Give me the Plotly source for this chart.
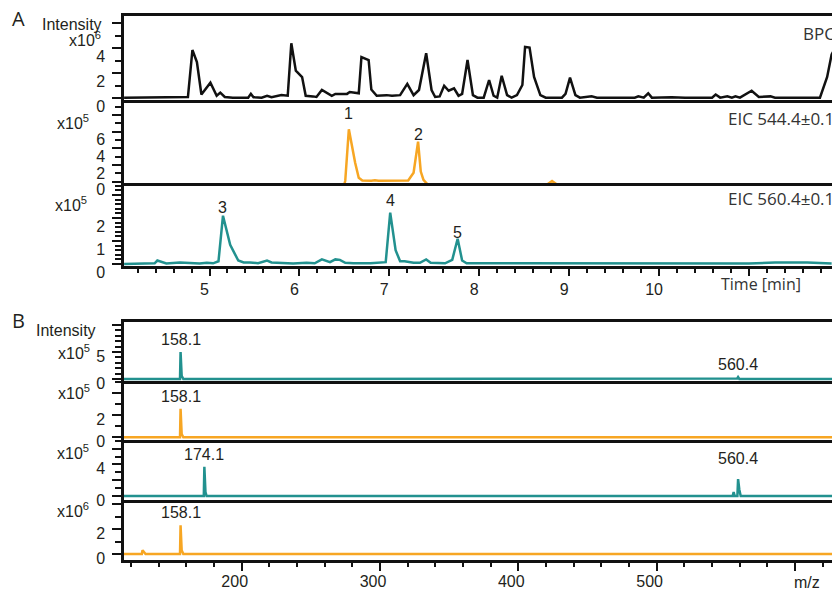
import plotly.graph_objects as go

W, H = 832, 589

# ---------------- Panel A: chromatograms (time in min) ----------------
bpc_t = [4.05, 4.73, 4.76, 4.81, 4.86, 4.91, 5.01, 5.08, 5.12, 5.17, 5.26, 5.43, 5.46, 5.49, 5.58,
         5.64, 5.69, 5.80, 5.87, 5.91, 5.96, 6.03, 6.07, 6.15, 6.19, 6.25, 6.36, 6.40, 6.53, 6.56,
         6.66, 6.69, 6.77, 6.80, 6.86, 6.97, 7.03, 7.12, 7.20, 7.27, 7.33, 7.41, 7.47, 7.51, 7.56,
         7.61, 7.66, 7.72, 7.77, 7.81, 7.87, 7.93, 7.98, 8.05, 8.11, 8.16, 8.20, 8.25, 8.31, 8.36,
         8.42, 8.48, 8.51, 8.56, 8.61, 8.68, 8.74, 8.92, 8.96, 9.01, 9.07, 9.12, 9.25, 9.31, 9.73,
         9.77, 9.83, 9.88, 9.92, 10.14, 10.29, 10.59, 10.63, 10.68, 10.76, 10.81, 10.85, 10.90, 11.03, 11.11,
         11.24, 11.29, 11.79, 11.87, 11.92, 11.98]
bpc_i = [0.05, 0.05, 0.1, 3.86, 2.9, 0.3, 1.25, 0.2, 0.45, 0.1, 0.05, 0.05, 0.35, 0.08, 0.05,
         0.2, 0.08, 0.25, 0.2, 4.4, 2.2, 1.7, 0.2, 0.15, 0.1, 0.66, 0.2, 0.35, 0.35, 0.5,
         0.4, 3.3, 3.06, 0.7, 0.2, 0.25, 0.2, 0.25, 1.15, 0.25, 0.66, 3.6, 0.66, 0.1, 0.15,
         1.0, 0.6, 0.8, 0.2, 0.35, 3.06, 0.25, 0.05, 0.05, 1.46, 0.2, 0.05, 1.8, 0.25, 0.05,
         0.25, 1.06, 4.1, 4.05, 1.7, 0.25, 0.05, 0.05, 0.35, 1.65, 0.25, 0.05, 0.15, 0.05, 0.05,
         0.15, 0.05, 0.4, 0.05, 0.08, 0.05, 0.05, 0.3, 0.05, 0.15, 0.05, 0.15, 0.05, 0.6, 0.1,
         0.15, 0.05, 0.05, 1.7, 3.5, 4.3]  # x10^6

eic544_t = [6.50, 6.51, 6.55, 6.62, 6.66, 6.70, 6.80, 6.84, 6.88, 7.15, 7.21, 7.27, 7.32, 7.35,
            7.38, 7.43, 8.75, 8.81, 8.87, 8.95]
eic544_i = [-0.35, 0.1, 6.3, 2.25, 0.45, 0.12, 0.1, 0.15, 0.1, 0.1, 0.12, 1.05, 4.8, 1.2,
            0.2, -0.4, -0.4, 0.05, -0.4, -0.4]  # x10^5

eic560_t = [4.05, 4.39, 4.42, 4.52, 4.67, 4.89, 4.97, 5.04, 5.10, 5.15, 5.23, 5.32, 5.38, 5.45,
            5.54, 5.64, 5.69, 5.82, 5.93, 6.08, 6.17, 6.25, 6.34, 6.40, 6.45, 6.51, 6.60, 6.79,
            6.90, 6.96, 7.01, 7.07, 7.12, 7.17, 7.27, 7.34, 7.41, 7.46, 7.62, 7.70, 7.76, 7.81,
            7.86, 8.2, 8.66, 9.0, 9.5, 10.0, 10.5, 11.0, 11.29, 11.65, 11.92]
eic560_i = [0.0, 0.03, 0.15, 0.02, 0.06, 0.02, 0.05, 0.03, 0.12, 2.1, 0.83, 0.15, 0.07, 0.07,
            0.03, 0.15, 0.07, 0.03, 0.02, 0.05, 0.03, 0.2, 0.08, 0.2, 0.18, 0.05, 0.03, 0.03,
            0.05, 0.08, 2.23, 0.6, 0.12, 0.12, 0.05, 0.05, 0.2, 0.05, 0.03, 0.18, 1.1, 0.15,
            0.03, 0.03, 0.05, 0.02, 0.03, 0.02, 0.03, 0.02, 0.06, 0.06, 0.02]  # x10^5

peakA_text = ["1", "2", "3", "4", "5"]
peakA_t = [6.55, 7.32, 5.15, 7.01, 7.76]
peakA_val = [6.3, 4.8, 2.1, 2.23, 1.1]
peakA_panel = [2, 2, 3, 3, 3]

time_ticks = [5, 6, 7, 8, 9, 10, 11]
time_ticktext = ["5", "6", "7", "8", "9", "10", ""]

# ---------------- Panel B: mass spectra (m/z) ----------------
ms1_mz = [114, 155.4, 155.8, 156.6, 157.8, 557.6, 558.3, 558.9, 559.8, 627]
ms1_i = [0, 0, 5.0, 0.6, 0, 0, 0.1, 0.35, 0, 0]  # x10^5
ms2_mz = [114, 155.4, 155.8, 156.6, 157.8, 627]
ms2_i = [0, 0, 2.6, 0.3, 0, 0]  # x10^5
ms3_mz = [114, 172.6, 173.0, 173.8, 174.6, 555.0, 555.7, 556.4, 558.4, 558.9, 559.8, 560.8, 627]
ms3_i = [0, 0, 3.7, 0.5, 0, 0, 0.5, 0, 0, 2.15, 0.8, 0, 0]  # x10^5
ms4_mz = [114, 127.8, 128.3, 129.5, 130.5, 155.4, 155.8, 156.6, 157.8, 627]
ms4_i = [0, 0, 0.3, 0.1, 0, 0, 2.3, 0.3, 0, 0]  # x10^6

peakB_text = ["158.1", "560.4", "158.1", "174.1", "560.4", "158.1"]
peakB_mz = [155.8, 558.9, 155.8, 173.0, 558.9, 155.8]
peakB_val = [5.0, 0.35, 2.6, 3.7, 2.15, 2.3]
peakB_panel = [4, 4, 5, 6, 6, 7]

mz_ticks = [200, 300, 400, 500, 600]
mz_ticktext = ["200", "300", "400", "500", ""]

# ---------------- styling ----------------
BLACK = "#111111"
TEAL = "#22918f"
ORANGE = "#f7a623"
TXT = "#231f20"
TICKFONT = dict(family="Liberation Sans, Arial", size=16, color=TXT)
LBLFONT = dict(family="Open Sans", size=17, color="#333333")


def py(px):
    return 1 - px / H


def px_x(px):
    return px / W


XDOM = [124 / W, 1.0]

fig = go.Figure()

traces = [
    (bpc_t, bpc_i, BLACK, 1),
    (eic544_t, eic544_i, ORANGE, 2),
    (eic560_t, eic560_i, TEAL, 3),
    (ms1_mz, ms1_i, TEAL, 4),
    (ms2_mz, ms2_i, ORANGE, 5),
    (ms3_mz, ms3_i, TEAL, 6),
    (ms4_mz, ms4_i, ORANGE, 7),
]
for x, y, c, k in traces:
    fig.add_trace(go.Scatter(x=x, y=y, mode="lines", line=dict(color=c, width=2.5),
                             xaxis="x" if k == 1 else f"x{k}", yaxis="y" if k == 1 else f"y{k}",
                             hoverinfo="skip"))

# subplot definitions: (pixel top, pixel bottom, yrange, tickvals, ticktext, minor dtick)
subs = {
    1: (16, 100, [-0.14, 6.58], [0, 2, 4, 6], ["0", "2", "4", ""], 1),
    2: (100, 183, [-0.18, 9.82], [0, 2, 4, 6, 8], ["0", "2", "4", "6", ""], 1),
    3: (183, 266, [-0.087, 3.52], [0, 1, 2, 3], ["0", "1", "2", ""], 0.2),
    4: (322, 381, [-0.37, 10.56], [0, 5, 10], ["0", "5", ""], 1),
    5: (381, 440, [-0.245, 5.12], [0, 2, 4], ["0", "2", ""], 1),
    6: (440, 500, [-0.506, 7.09], [0, 2, 4, 6], ["0", "", "4", ""], 1),
    7: (500, 560, [-0.48, 4.32], [0, 2, 4], ["0", "2", ""], 1),
}

layout = {}
for k, (top, bot, yr, tv, tt, mdt) in subs.items():
    xname = "xaxis" if k == 1 else f"xaxis{k}"
    yname = "yaxis" if k == 1 else f"yaxis{k}"
    xa = "x" if k == 1 else f"x{k}"
    ya = "y" if k == 1 else f"y{k}"
    panelA = k <= 3
    bottom = k in (3, 7)
    topmost = k in (1, 4)
    if panelA:
        xr = [4.049, 11.924]
        xt, xtt, xminor = time_ticks, time_ticktext, 0.2
        shift_x, shift_y, stand_x = -5, 8, 0
    else:
        xr = [114.9, 626.8]
        xt, xtt, xminor = mz_ticks, mz_ticktext, 20
        shift_x, shift_y, stand_x = -7, 4, -3
    xaxis = dict(domain=XDOM, range=xr, anchor=ya, showgrid=False, zeroline=False,
                 showline=True, linecolor=BLACK, linewidth=2.5, automargin=False,
                 mirror=True if topmost else False, fixedrange=True)
    if bottom:
        xaxis.update(tickmode="array", tickvals=xt, ticktext=xtt, ticks="outside",
                     ticklen=7 if panelA else 8, tickwidth=2, tickcolor=BLACK,
                     tickfont=TICKFONT, ticklabelshift=shift_x, ticklabelstandoff=stand_x,
                     minor=dict(tickmode="linear", tick0=0, dtick=xminor, ticks="outside",
                                ticklen=4, tickwidth=2, tickcolor=BLACK))
    else:
        xaxis.update(showticklabels=False, ticks="")
    layout[xname] = xaxis
    layout[yname] = dict(domain=[py(bot), py(top)], range=yr, anchor=xa, showgrid=False,
                         zeroline=False, showline=True, linecolor=BLACK, linewidth=2.5,
                         automargin=False,
                         tickmode="array", tickvals=tv, ticktext=tt, ticks="outside",
                         ticklen=9, tickwidth=2, tickcolor=BLACK, tickfont=TICKFONT,
                         ticklabelstandoff=4, ticklabelshift=shift_y,
                         minor=dict(tickmode="linear", tick0=0, dtick=mdt, ticks="outside",
                                    ticklen=6, tickwidth=2, tickcolor=BLACK),
                         fixedrange=True)

annotations = []


def paper_text(text, xpx, ypx, font, xanchor="right"):
    annotations.append(dict(text=text, x=px_x(xpx), y=py(ypx), xref="paper", yref="paper",
                            xanchor=xanchor, yanchor="middle", showarrow=False, font=font))


# panel letters
paper_text("A", 10, 19, dict(family="Open Sans", size=20, color=TXT), "left")
paper_text("B", 10, 320, dict(family="Open Sans", size=20, color=TXT), "left")

# intensity labels / exponents
paper_text("Intensity", 104, 25, TICKFONT)
paper_text("x10<sup>6</sup>", 103, 39, TICKFONT)
paper_text("x10<sup>5</sup>", 91, 122, TICKFONT)
paper_text("x10<sup>5</sup>", 89, 204, TICKFONT)
paper_text("Intensity", 98, 330, TICKFONT)
paper_text("x10<sup>5</sup>", 92, 352, TICKFONT)
paper_text("x10<sup>5</sup>", 92, 392, TICKFONT)
paper_text("x10<sup>5</sup>", 91, 452, TICKFONT)
paper_text("x10<sup>6</sup>", 91, 510, TICKFONT)

# trace labels
paper_text("BPC", 801, 34, LBLFONT, "left")
paper_text("EIC 544.4±0.1", 726, 118, LBLFONT, "left")
paper_text("EIC 560.4±0.1", 726, 199, LBLFONT, "left")
paper_text("Time [min]", 761, 284, dict(family="Open Sans", size=16, color="#333333"), "center")
paper_text("m/z", 807, 582, TICKFONT, "center")

# peak number labels (panel A)
shiftsA = [16, 7, 8, 12, 6]
for txt, t, v, p, s in zip(peakA_text, peakA_t, peakA_val, peakA_panel, shiftsA):
    annotations.append(dict(text=txt, x=t, y=v, xref=f"x{p}", yref=f"y{p}", yshift=s,
                            xanchor="center", yanchor="middle", showarrow=False, font=TICKFONT))

# m/z labels (panel B)
shiftsB = [13, 13, 12, 12, 21, 13]
for txt, m, v, p, s in zip(peakB_text, peakB_mz, peakB_val, peakB_panel, shiftsB):
    annotations.append(dict(text=txt, x=m, y=v, xref=f"x{p}", yref=f"y{p}", yshift=s,
                            xanchor="center", yanchor="middle", showarrow=False, font=TICKFONT))

fig.update_layout(width=W, height=H, margin=dict(l=0, r=0, t=0, b=0, autoexpand=False),
                  plot_bgcolor="white", paper_bgcolor="white", showlegend=False,
                  annotations=annotations, **layout)

fig.write_html("out.html", config={"displayModeBar": False})
